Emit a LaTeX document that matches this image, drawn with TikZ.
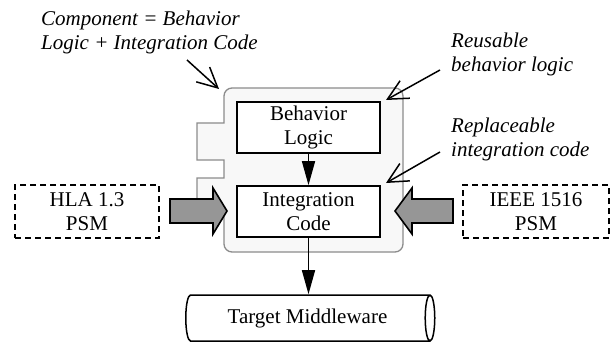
\documentclass[tikz,border=0pt]{standalone}
\usepackage{fontspec}
\setmainfont{Liberation Serif}
\usetikzlibrary{arrows.meta,shapes.geometric}
\definecolor{contfill}{RGB}{248,248,248}
\definecolor{contdraw}{RGB}{140,140,140}
\definecolor{blockgray}{RGB}{150,150,150}
\begin{document}
\begin{tikzpicture}[x=1pt,y=-1pt,
  every node/.style={font=\fontsize{21}{24}\selectfont},
  box/.style={draw=black,line width=1.6pt,fill=white,minimum width=143pt,minimum height=51pt,inner sep=0pt,align=center},
  psmbox/.style={draw=black,line width=1.5pt,dash pattern=on 6pt off 4pt,minimum height=53pt,inner sep=0pt,align=center},
  note/.style={font=\fontsize{21}{24}\selectfont\itshape,align=left,inner sep=0pt},
  notearrow/.style={line width=1.5pt,-{Straight Barb[length=20pt,width=20pt,line width=1.5pt]}},
  flow/.style={line width=1.5pt,-{Triangle[length=24pt,width=13pt]}},
  block/.style={draw=black,line width=1.6pt,fill=blockgray,line join=miter},
  cont/.style={draw=contdraw,line width=1.3pt,fill=contfill}
]
\useasboundingbox (0,0) rectangle (610,342);
% container
\draw[cont] (224,110) [rounded corners=8pt] -- (224,88) -- (403,88) -- (403,252) -- (224,252) -- (224,232) [sharp corners] -- (224,215) -- (197,215) -- (197,178) -- (224,178) -- (224,160) -- (197,160) -- (197,123) -- (224,123) -- cycle;
% boxes
\node[box] (beh) at (308.5,127.5) {Behavior\\Logic};
\node[box] (int) at (308.5,211.5) {Integration\\Code};
\node[psmbox,minimum width=144pt] (hla) at (87,211.5) {HLA 1.3\\PSM};
\node[psmbox,minimum width=146pt] (ieee) at (536,211.5) {IEEE 1516\\PSM};
% cylinder
\node[draw=black,line width=1.5pt,fill=white,shape=cylinder,shape border rotate=0,aspect=0.5,minimum width=46pt,minimum height=249pt,inner sep=0pt] (tm) at (307.5,318) {Target Middleware};
% flows
\draw[flow] (beh.south) -- (int.north);
\draw[flow] (int.south) -- (int.south |- tm.north);
% block arrows
\draw[block] (170,199) -- (213,199) -- (213,188) -- (227,211) -- (213,234) -- (213,223) -- (170,223) -- cycle;
\draw[block] (453,199) -- (412,199) -- (412,188) -- (395,211) -- (412,234) -- (412,223) -- (453,223) -- cycle;
% notes
\node[note,anchor=base west] (comp) at (41,50) {Component = Behavior\\Logic + Integration Code};
\node[note,anchor=base west] (reuse) at (451,72) {Reusable\\behavior logic};
\node[note,anchor=base west] (repl) at (451,156) {Replaceable\\integration code};
\coordinate (c1s) at (187,60);
\coordinate (c1e) at (219,89);
\coordinate (c2s) at (440,70);
\coordinate (c2e) at (386,100);
\coordinate (c3s) at (440,152);
\coordinate (c3e) at (386,183);
\draw[notearrow] (c1s) -- (c1e);
\draw[notearrow] (c2s) -- (c2e);
\draw[notearrow] (c3s) -- (c3e);
\end{tikzpicture}
\end{document}
